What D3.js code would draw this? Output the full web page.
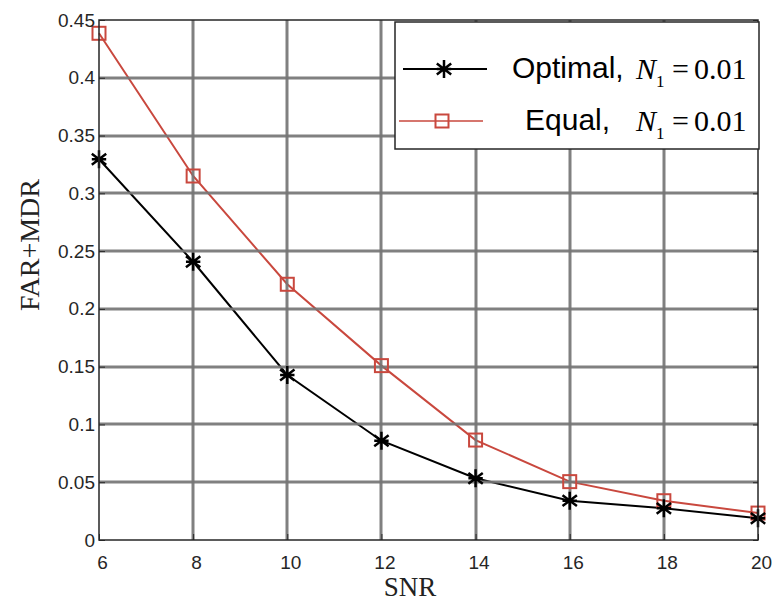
<!DOCTYPE html>
<html>
<head>
<meta charset="utf-8">
<script src="https://cdn.jsdelivr.net/npm/d3@7"></script>
<style>
  body { margin: 0; background: #fff; }
  svg { display: block; }
</style>
</head>
<body>
<script>
'use strict';

// data
const snr = [6, 8, 10, 12, 14, 16, 18, 20];
const optimal = [0.3295, 0.2408, 0.1428, 0.0859, 0.0534, 0.0340, 0.0274, 0.0188];
const equal = [0.4385, 0.3150, 0.2213, 0.1509, 0.0865, 0.0505, 0.0340, 0.0233];
const xTicks = [6, 8, 10, 12, 14, 16, 18, 20];
const yTicks = [0, 0.05, 0.1, 0.15, 0.2, 0.25, 0.3, 0.35, 0.4, 0.45];
const yTickLabels = ["0", "0.05", "0.1", "0.15", "0.2", "0.25", "0.3", "0.35", "0.4", "0.45"];

const W = 776, H = 603;
const plot = { left: 99, right: 758, top: 20, bottom: 540 };
const red = "#c9483e";

const svg = d3.select("body").append("svg")
  .attr("width", W)
  .attr("height", H);

const x = d3.scaleLinear().domain([6, 20]).range([plot.left, plot.right]);
const y = d3.scaleLinear().domain([0, 0.45]).range([plot.bottom, plot.top]);

// data lines
const line = d3.line()
  .x((d, i) => x(snr[i]))
  .y(d => y(d));

svg.append("path")
  .datum(equal)
  .attr("d", line)
  .attr("fill", "none")
  .attr("stroke", red)
  .attr("stroke-width", 2);

svg.append("path")
  .datum(optimal)
  .attr("d", line)
  .attr("fill", "none")
  .attr("stroke", "#000")
  .attr("stroke-width", 2);

// grid sits on top of the data, like the original
const grid = svg.append("g").attr("stroke", "#757575").attr("stroke-opacity", 0.92).attr("stroke-width", 3);
grid.selectAll(".gx")
  .data(xTicks.slice(1, -1))
  .enter()
  .append("line")
  .attr("x1", d => Math.round(x(d))).attr("x2", d => Math.round(x(d)))
  .attr("y1", plot.top).attr("y2", plot.bottom);
grid.selectAll(".gy")
  .data(yTicks.slice(1, -1))
  .enter()
  .append("line")
  .attr("x1", plot.left).attr("x2", plot.right)
  .attr("y1", d => Math.round(y(d))).attr("y2", d => Math.round(y(d)));

// markers
function starPath(size) {
  const v = size / 2, h = size * 0.4, dy = size * 0.3;
  return "M0," + (-v) + "V" + v +
    "M" + (-h) + ",0H" + h +
    "M" + (-h) + "," + (-dy) + "L" + h + "," + dy +
    "M" + (-h) + "," + dy + "L" + h + "," + (-dy);
}

svg.selectAll(".sq")
  .data(equal)
  .enter()
  .append("rect")
  .attr("x", (d, i) => x(snr[i]) - 6.5)
  .attr("y", d => y(d) - 6.5)
  .attr("width", 13)
  .attr("height", 13)
  .attr("fill", "none")
  .attr("stroke", red)
  .attr("stroke-width", 2);

svg.selectAll(".st")
  .data(optimal)
  .enter()
  .append("path")
  .attr("transform", (d, i) => "translate(" + x(snr[i]) + "," + y(d) + ")")
  .attr("d", starPath(18))
  .attr("fill", "none")
  .attr("stroke", "#000")
  .attr("stroke-width", 2.5);

// axes box
svg.append("rect")
  .attr("x", plot.left).attr("y", plot.top)
  .attr("width", plot.right - plot.left)
  .attr("height", plot.bottom - plot.top)
  .attr("fill", "none")
  .attr("stroke", "#262626")
  .attr("stroke-width", 1.5);

// inward ticks
const xAxis = d3.axisBottom(x).tickValues(xTicks).tickSize(-6).tickPadding(16).tickFormat(d3.format("d"));
const gx = svg.append("g")
  .attr("transform", "translate(0," + plot.bottom + ")")
  .call(xAxis);
gx.select(".domain").remove();
gx.selectAll("line").attr("stroke", "#262626");
gx.selectAll("text")
  .attr("fill", "#262626")
  .attr("dx", 3)
  .style("font-family", "Liberation Sans, Arial, sans-serif")
  .style("font-size", "19px");

const yAxis = d3.axisLeft(y).tickValues(yTicks).tickSize(-6).tickPadding(4)
  .tickFormat((d, i) => yTickLabels[i]);
const gy = svg.append("g")
  .attr("transform", "translate(" + plot.left + ",0)")
  .call(yAxis);
gy.select(".domain").remove();
gy.selectAll("line").attr("stroke", "#262626");
gy.selectAll("text")
  .attr("fill", "#262626")
  .style("font-family", "Liberation Sans, Arial, sans-serif")
  .style("font-size", "19px");

const gyr = svg.append("g")
  .attr("transform", "translate(" + plot.right + ",0)")
  .call(d3.axisRight(y).tickValues(yTicks).tickSize(-5).tickFormat(""));
gyr.select(".domain").remove();
gyr.selectAll("line").attr("stroke", "#262626");

// axis titles
svg.append("text")
  .attr("x", 410)
  .attr("y", 596)
  .attr("text-anchor", "middle")
  .style("font-family", "Liberation Serif, Times New Roman, serif")
  .style("font-size", "27px")
  .attr("fill", "#222")
  .text("SNR");

svg.append("text")
  .attr("transform", "translate(39,245)rotate(-90)")
  .attr("text-anchor", "middle")
  .style("font-family", "Liberation Serif, Times New Roman, serif")
  .style("font-size", "28px")
  .attr("fill", "#222")
  .text("FAR+MDR");

// legend
const legend = svg.append("g");
legend.append("rect")
  .attr("x", 395).attr("y", 22)
  .attr("width", 364).attr("height", 127)
  .attr("fill", "#fff")
  .attr("stroke", "#262626")
  .attr("stroke-width", 1.5);

const entries = [
  { name: "Optimal,", color: "#000", marker: "star", y: 69, lx1: 403, lx2: 487, mx: 444, tx: 512 },
  { name: "Equal,", color: red, marker: "square", y: 121, lx1: 399, lx2: 483, mx: 442, tx: 525 }
];

entries.forEach(e => {
  legend.append("line")
    .attr("x1", e.lx1).attr("x2", e.lx2)
    .attr("y1", e.y).attr("y2", e.y)
    .attr("stroke", e.color)
    .attr("stroke-width", e.marker === "star" ? 2 : 1.5);
  if (e.marker === "star") {
    legend.append("path")
      .attr("transform", "translate(" + e.mx + "," + e.y + ")")
      .attr("d", starPath(18))
      .attr("fill", "none")
      .attr("stroke", e.color)
      .attr("stroke-width", 2.5);
  } else {
    legend.append("rect")
      .attr("x", e.mx - 6.5).attr("y", e.y - 6.5)
      .attr("width", 13).attr("height", 13)
      .attr("fill", "none")
      .attr("stroke", e.color)
      .attr("stroke-width", 2);
  }
  legend.append("text")
    .attr("x", e.tx)
    .attr("y", e.y + 9)
    .style("font-family", "Liberation Sans, Arial, sans-serif")
    .style("font-size", "30px")
    .attr("fill", "#000")
    .text(e.name);

  const m = legend.append("text")
    .attr("x", 636)
    .attr("y", e.y + 10)
    .style("font-family", "Liberation Serif, Times New Roman, serif")
    .style("font-size", "30px")
    .attr("fill", "#000");
  m.append("tspan").style("font-style", "italic").text("N");
  m.append("tspan").attr("dy", 8).style("font-size", "17px").text("1");
  m.append("tspan").attr("x", 672).attr("dy", -8).text("=");
  m.append("tspan").attr("x", 694).text("0.01");
});
</script>
</body>
</html>
